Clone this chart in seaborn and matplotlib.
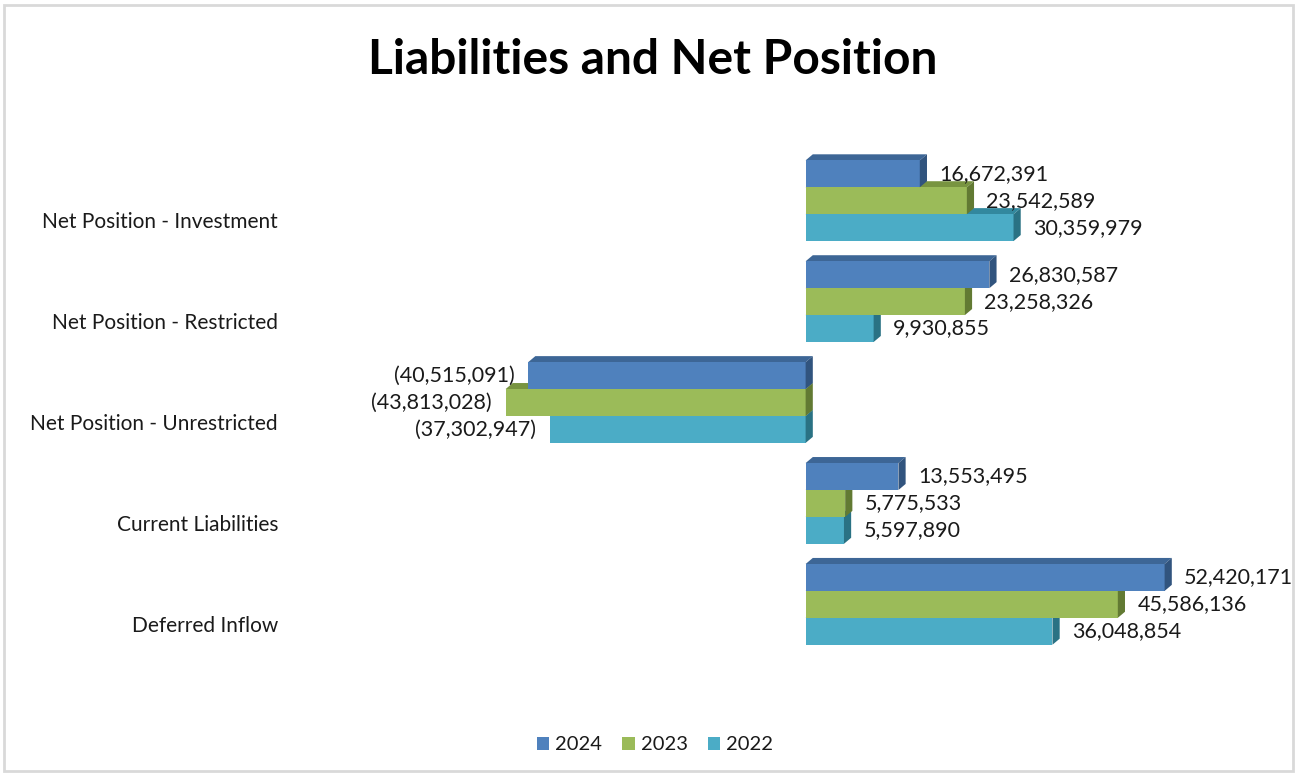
import numpy as np
import pandas as pd
import matplotlib.pyplot as plt
import seaborn as sns
from matplotlib.patches import Polygon, Rectangle

categories = ['Net Position - Investment', 'Net Position - Restricted',
              'Net Position - Unrestricted', 'Current Liabilities', 'Deferred Inflow']
years = ['2024', '2023', '2022']
vals_2024 = [16672391, 26830587, -40515091, 13553495, 52420171]
vals_2023 = [23542589, 23258326, -43813028, 5775533, 45586136]
vals_2022 = [30359979, 9930855, -37302947, 5597890, 36048854]

colors = {'2024': '#4F81BD', '2023': '#9BBB59', '2022': '#4BACC6'}
tops = {'2024': '#3D6696', '2023': '#789440', '2022': '#32889E'}
sides = {'2024': '#31547E', '2023': '#627A33', '2022': '#2A7284'}

df = pd.DataFrame({
    'category': categories * 3,
    'year': ['2024'] * 5 + ['2023'] * 5 + ['2022'] * 5,
    'value': vals_2024 + vals_2023 + vals_2022,
})

sns.set_style('white')
plt.rcParams['font.family'] = ['Lato', 'DejaVu Sans']

fig = plt.figure(figsize=(12.97, 7.75), dpi=100)
fig.patches.append(Rectangle((0.003, 0.005), 0.994, 0.988, transform=fig.transFigure,
                             fill=False, edgecolor='#D9D9D9', linewidth=2))

# axes placed so that zero sits at ~806px and groups are ~101px apart
ax = fig.add_axes([292 / 1297, 1 - 675 / 775, 993 / 1297, 555 / 775])
sns.barplot(data=df, x='value', y='category', hue='year', hue_order=years,
            palette=colors, saturation=1, linewidth=0, orient='h', ax=ax)
ax.set_xlim(-75e6, 70e6)
ax.set_ylim(4.7, -0.8)

# fake 3D depth: top and side faces
dx = 1.05e6
dy = -0.06
fmt = lambda v: f'{v:,.0f}' if v >= 0 else f'({-v:,.0f})'
for cont, yr, z in zip(ax.containers, years, [3, 2, 1]):
    for bar in cont:
        bar.set_zorder(z + 0.5)
        x0, x1 = bar.get_x(), bar.get_x() + bar.get_width()
        xa, xb = min(x0, x1), max(x0, x1)
        yt = bar.get_y()
        yb = yt + bar.get_height()
        ax.add_patch(Polygon([(xa, yt), (xa + dx, yt + dy), (xb + dx, yt + dy), (xb, yt)],
                             closed=True, facecolor=tops[yr], edgecolor='none', zorder=z))
        ax.add_patch(Polygon([(xb, yb), (xb, yt), (xb + dx, yt + dy), (xb + dx, yb + dy)],
                             closed=True, facecolor=sides[yr], edgecolor='none', zorder=z + 0.6))
    ax.bar_label(cont, labels=[fmt(v) if v >= 0 else '' for v in cont.datavalues],
                 padding=14, fontsize=15.5, color='#1a1a1a')
    ax.bar_label(cont, labels=[fmt(v) if v < 0 else '' for v in cont.datavalues],
                 padding=10, fontsize=15.5, color='#1a1a1a')

# category labels sit a bit below the group centre, as in the original
ax.set_yticks(np.arange(len(categories)) + 0.19, categories)
ax.set_xticks([])
ax.set_xlabel('')
ax.set_ylabel('')
ax.tick_params(axis='y', length=0, labelsize=15, pad=10, labelcolor='#1a1a1a')
for s in ax.spines.values():
    s.set_visible(False)

handles, labels = ax.get_legend_handles_labels()
ax.get_legend().remove()
fig.legend(handles, labels, loc='center', bbox_to_anchor=(0.505, 1 - 745 / 775), ncol=3,
           frameon=False, fontsize=14.5, handlelength=0.6, handleheight=0.6,
           handletextpad=0.3, columnspacing=1.0, labelcolor='#1a1a1a')

fig.text(0.503, 1 - 60 / 775, 'Liabilities and Net Position', ha='center', va='center',
         fontsize=34.5, fontweight='bold', color='black')

plt.savefig('out.png', dpi=100)
